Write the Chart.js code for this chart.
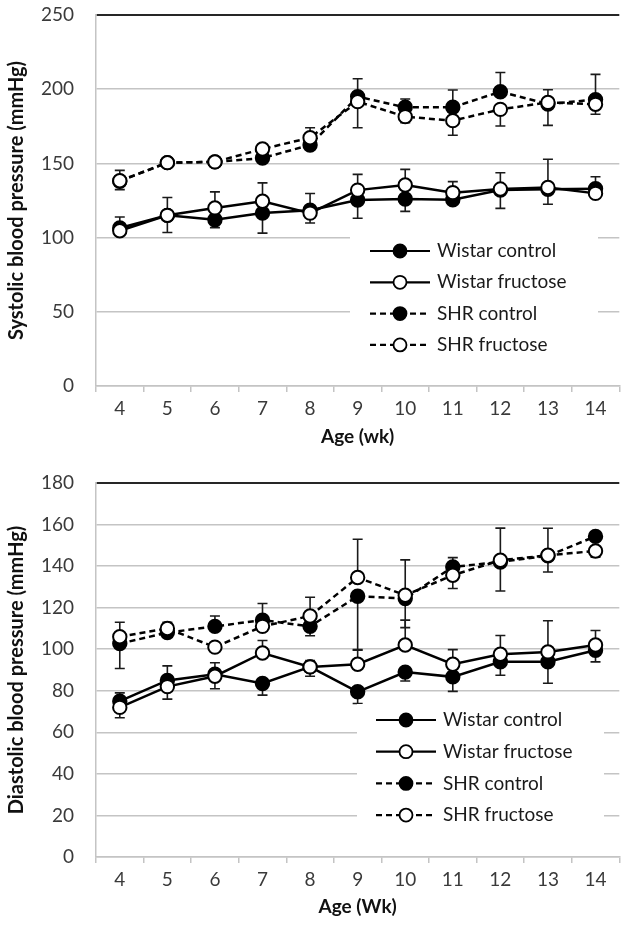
<!DOCTYPE html>
<html>
<head>
<meta charset="utf-8">
<script src="https://cdn.jsdelivr.net/npm/chart.js@4.4.1/dist/chart.umd.min.js"></script>
<style>
  html, body { margin: 0; padding: 0; background: #fff; overflow: hidden; width: 623px; height: 935px; }
  canvas { display: block; }
</style>
</head>
<body>
<canvas id="sbp" width="628" height="468"></canvas>
<canvas id="dbp" width="628" height="467"></canvas>
<script>
/*
    DATOS
*/
const WEEKS = ['4', '5', '6', '7', '8', '9', '10', '11', '12', '13', '14'];
const GROUPS = ['Wistar control', 'Wistar fructose', 'SHR control', 'SHR fructose'];

// systolic (mmHg)
const SBP_WISTAR_CTRL = [106.5, 115, 112, 116.5, 118.5, 125.3, 126, 125.5, 132, 132.5, 133];
const SBP_WISTAR_FRUC = [104.6, 115, 120, 124.5, 116.5, 132, 135.4, 130.3, 132.7, 133.8, 129.8];
const SBP_SHR_CTRL = [138, 150.5, 151, 153.6, 162.4, 195, 187.8, 187.8, 198.3, 190, 193];
const SBP_SHR_FRUC = [138.3, 150.5, 151, 159.7, 167.3, 191.6, 181.5, 178.8, 186.4, 191.1, 189.8];
// error bars (up / down), 0 where hidden behind a marker
const SBP_WC_UP = [7.4, 0, 0, 0, 11.2, 0, 0, 0, 0, 0, 8];
const SBP_WC_DN = [0, 11.6, 5.3, 13.5, 0, 12.3, 8.3, 0, 12.3, 10, 0];
const SBP_WF_UP = [0, 12, 10.8, 12.4, 0, 10.6, 10.6, 7.4, 11, 19, 0];
const SBP_WF_DN = [3, 0, 0, 0, 6.7, 0, 0, 0, 0, 0, 0];
const SBP_SC_UP = [0, 0, 0, 0, 0, 12, 5.6, 11.7, 13, 0, 17];
const SBP_SC_DN = [0, 0, 0, 0, 0, 0, 0, 0, 0, 0, 0];
const SBP_SF_UP = [7, 0, 0, 0, 6.7, 0, 0, 0, 0, 8.5, 0];
const SBP_SF_DN = [6, 0, 0, 0, 0, 17.6, 4, 9.8, 11.2, 15.5, 6.7];

// diastolic (mmHg)
const DBP_WISTAR_CTRL = [75, 85, 88, 83.5, 91.5, 79.5, 89, 86.7, 94, 94, 99.5];
const DBP_WISTAR_FRUC = [72, 82, 87, 98.2, 91.5, 92.8, 102, 92.8, 97.6, 98.7, 102];
const DBP_SHR_CTRL = [102.7, 108, 111, 114, 111, 125.5, 124.4, 139.6, 142, 145, 154.3];
const DBP_SHR_FRUC = [106, 110, 101, 111, 116, 134.5, 126, 135.6, 142.8, 145.2, 147.3];
const DBP_WC_UP = [4, 7, 0, 0, 0, 0, 0, 0, 0, 0, 0];
const DBP_WC_DN = [0, 0, 0, 5.6, 4.5, 5.6, 4.3, 7, 6.5, 10.4, 5.6];
const DBP_WF_UP = [0, 0, 6.5, 6, 3, 7, 12, 7, 9, 15, 7];
const DBP_WF_DN = [5, 6, 6, 0, 0, 0, 0, 0, 0, 0, 0];
const DBP_SC_UP = [0, 0, 5, 8, 0, 0, 0, 4.5, 0, 0, 0];
const DBP_SC_DN = [12, 0, 0, 0, 4.5, 26, 14, 0, 14, 0, 0];
const DBP_SF_UP = [7, 3, 0, 0, 9, 18.4, 17, 0, 15.5, 13, 0];
const DBP_SF_DN = [0, 0, 0, 0, 0, 0, 0, 6.4, 0, 8, 3];

/*
    ESTILOS
*/
const FONT = 'Lato, "Open Sans", sans-serif';
const GRID = '#c4c4c4';
const TEXT = '#3a3a3a';

/*
    PLUGINS
*/
const errorBars = {
  id: 'errorBars',
  beforeDatasetsDraw(chart) {
    const { ctx, scales: { y } } = chart;
    ctx.save();
    ctx.strokeStyle = '#1a1a1a';
    ctx.lineWidth = 1.6;
    chart.data.datasets.forEach((ds, i) => {
      const meta = chart.getDatasetMeta(i);
      meta.data.forEach((pt, j) => {
        const v = ds.data[j];
        [[ds.errUp[j], 1], [ds.errDown[j], -1]].forEach(([e, sign]) => {
          if (!e) return;
          const yy = y.getPixelForValue(v + sign * e);
          ctx.beginPath();
          ctx.moveTo(pt.x, pt.y);
          ctx.lineTo(pt.x, yy);
          ctx.moveTo(pt.x - 5, yy);
          ctx.lineTo(pt.x + 5, yy);
          ctx.stroke();
        });
      });
    });
    ctx.restore();
  }
};

const boxLegend = {
  id: 'boxLegend',
  afterDraw(chart, args, o) {
    const ctx = chart.ctx;
    ctx.save();
    ctx.fillStyle = '#fff';
    ctx.fillRect(o.left, o.top, o.width, o.height);
    chart.data.datasets.forEach((ds, i) => {
      const cy = o.firstRow + i * o.rowGap;
      ctx.strokeStyle = '#000';
      ctx.lineWidth = 2.2;
      ctx.setLineDash(ds.borderDash || []);
      ctx.beginPath();
      ctx.moveTo(o.lineX, cy);
      ctx.lineTo(o.lineX + o.lineW, cy);
      ctx.stroke();
      ctx.setLineDash([]);
      ctx.beginPath();
      ctx.arc(o.lineX + o.lineW / 2, cy, 6.5, 0, Math.PI * 2);
      ctx.fillStyle = ds.pointBackgroundColor;
      ctx.fill();
      ctx.lineWidth = 1.8;
      ctx.stroke();
      ctx.fillStyle = '#1a1a1a';
      ctx.font = `19px ${FONT}`;
      ctx.textBaseline = 'middle';
      ctx.fillText(ds.label, o.textX, cy);
    });
    ctx.restore();
  }
};

/*
    FUNCIONES
*/
const makeSeries = (values, up, down) =>
  GROUPS.map((label, i) => ({
    label,
    data: values[i],
    errUp: up[i],
    errDown: down[i],
    borderColor: '#000',
    borderWidth: 2.5,
    borderDash: i > 1 ? [6, 4] : [],
    pointRadius: 6.7,
    pointBorderWidth: 2,
    pointBorderColor: '#000',
    pointBackgroundColor: i % 2 === 0 ? '#000' : '#fff',
    tension: 0,
    clip: false,
    order: 4 - i
  }));

const drawChart = (id, opts) => {
  const { datasets, max, step, yTitle, xTitle, xHeight, titlePad, legend } = opts;
  return new Chart(document.getElementById(id), {
    type: 'line',
    data: { labels: WEEKS, datasets },
    plugins: [errorBars, boxLegend],
    options: {
      responsive: false,
      animation: false,
      layout: { padding: { top: 15, left: 0, right: 0, bottom: 0 } },
      plugins: {
        legend: { display: false },
        tooltip: { enabled: false },
        boxLegend: legend
      },
      scales: {
        x: {
          offset: true,
          afterFit: (s) => { s.height = xHeight; s.paddingLeft = 0; s.paddingRight = 0; },
          grid: { offset: true, drawOnChartArea: false, drawTicks: true, tickLength: 6, color: GRID, lineWidth: 1.5 },
          border: { color: GRID, width: 1.5 },
          ticks: { color: TEXT, font: { family: FONT, size: 19 }, padding: 5, maxRotation: 0 },
          title: { display: true, text: xTitle, color: '#111', font: { family: FONT, size: 19, weight: 'bold' }, padding: { top: 0, bottom: titlePad } }
        },
        y: {
          min: 0,
          max,
          afterFit: (s) => { s.width = 96; s.paddingTop = 0; s.paddingBottom = 0; },
          grid: {
            drawTicks: false,
            color: (c) => (c.tick && c.tick.value === max ? '#262626' : GRID),
            lineWidth: (c) => (c.tick && c.tick.value === max ? 2 : 1.5)
          },
          border: { color: GRID, width: 1.5 },
          ticks: { stepSize: step, color: TEXT, font: { family: FONT, size: 19 }, padding: 22 },
          title: { display: true, text: yTitle, color: '#111', font: { family: FONT, size: 20, weight: 'bold' }, padding: { top: 5, bottom: 0 } }
        }
      }
    }
  });
};

drawChart('sbp', {
  datasets: makeSeries(
    [SBP_WISTAR_CTRL, SBP_WISTAR_FRUC, SBP_SHR_CTRL, SBP_SHR_FRUC],
    [SBP_WC_UP, SBP_WF_UP, SBP_SC_UP, SBP_SF_UP],
    [SBP_WC_DN, SBP_WF_DN, SBP_SC_DN, SBP_SF_DN]
  ),
  max: 250,
  step: 50,
  yTitle: 'Systolic blood pressure (mmHg)',
  xTitle: 'Age (wk)',
  xHeight: 82,
  titlePad: 20,
  legend: { left: 350, top: 230, width: 248, height: 140, firstRow: 251, rowGap: 31.3, lineX: 370, lineW: 60, textX: 437 }
});

drawChart('dbp', {
  datasets: makeSeries(
    [DBP_WISTAR_CTRL, DBP_WISTAR_FRUC, DBP_SHR_CTRL, DBP_SHR_FRUC],
    [DBP_WC_UP, DBP_WF_UP, DBP_SC_UP, DBP_SF_UP],
    [DBP_WC_DN, DBP_WF_DN, DBP_SC_DN, DBP_SF_DN]
  ),
  max: 180,
  step: 20,
  yTitle: 'Diastolic blood pressure (mmHg)',
  xTitle: 'Age (Wk)',
  xHeight: 78,
  titlePad: 17,
  legend: { left: 357, top: 236, width: 247, height: 140, firstRow: 252, rowGap: 31.7, lineX: 376, lineW: 60, textX: 443 }
});
</script>
</body>
</html>
